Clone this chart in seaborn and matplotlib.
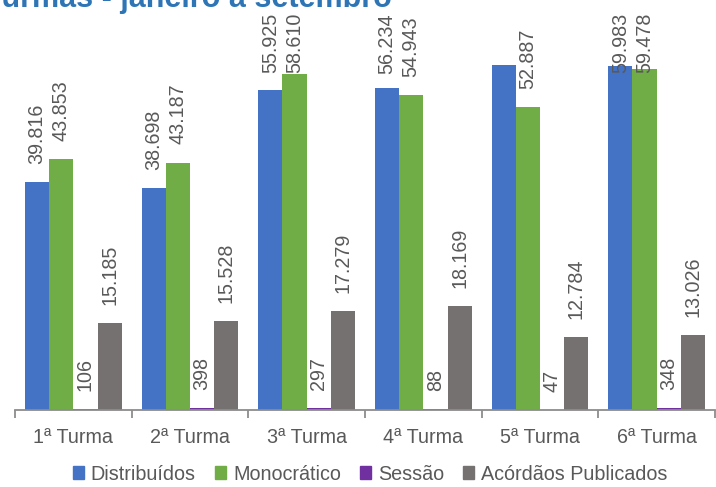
import numpy as np
import pandas as pd
import matplotlib
matplotlib.use("Agg")
import matplotlib.pyplot as plt
import seaborn as sns

# dados
turmas = ["1ª Turma", "2ª Turma", "3ª Turma", "4ª Turma", "5ª Turma", "6ª Turma"]
series = ["Distribuídos", "Monocrático", "Sessão", "Acórdãos Publicados"]
distribuidos = [39816, 38698, 55925, 56234, 60210, 59983]   # 5ª Turma: rótulo cortado na origem
monocratico = [43853, 43187, 58610, 54943, 52887, 59478]
sessao = [106, 398, 297, 88, 47, 348]
acordaos = [15185, 15528, 17279, 18169, 12784, 13026]
rotulo_oculto = [("5ª Turma", "Distribuídos")]

cores = ["#4472C4", "#70AD47", "#7030A0", "#767171"]
cinza_txt = "#595959"

df = pd.DataFrame({
    "turma": turmas * 4,
    "serie": np.repeat(series, len(turmas)),
    "valor": distribuidos + monocratico + sessao + acordaos,
})

sns.set_theme(style="white")
plt.rcParams["font.family"] = ["Liberation Sans Narrow", "Liberation Sans", "DejaVu Sans"]
fs = 14.2

fig = plt.figure(figsize=(7.16, 4.87), dpi=100)
ax = fig.add_axes([15 / 716, 77 / 487, 700 / 716, 410 / 487])

sns.barplot(data=df, x="turma", y="valor", hue="serie", order=turmas,
            hue_order=series, palette=cores, saturation=1, width=0.83,
            errorbar=None, linewidth=0, ax=ax)

ymax = 71550
ax.set_ylim(0, ymax)
ax.set_xlim(-0.5, len(turmas) - 0.5)
ax.set_xlabel("")
ax.set_ylabel("")
ax.set_yticks([])
for s in ["left", "right", "top"]:
    ax.spines[s].set_visible(False)
ax.spines["bottom"].set_color("#8C8C8C")
ax.spines["bottom"].set_linewidth(1.3)

ax.set_xticks(range(len(turmas)))
ax.set_xticklabels(turmas)
ax.set_xticks(np.arange(-0.5, len(turmas), 1), minor=True)
ax.tick_params(axis="x", which="major", length=0, pad=13, labelsize=fs, labelcolor=cinza_txt)
ax.tick_params(axis="x", which="minor", bottom=True, length=6, width=1.3, color="#8C8C8C")

# rótulos de dados
fig.canvas.draw()
limite_px = fig.bbox.height - 13
y_lim_top = ymax * (1 - 13 / 410)
for cont, serie in zip(ax.containers, series):
    for barra, turma in zip(cont, turmas):
        if (turma, serie) in rotulo_oculto:
            continue
        h = barra.get_height()
        x = barra.get_x() + barra.get_width() / 2
        txt = f"{int(h):,}".replace(",", ".")
        t = ax.annotate(txt, (x, h), xytext=(0, 13), textcoords="offset points",
                        rotation=90, ha="center", va="bottom", fontsize=fs,
                        color=cinza_txt, annotation_clip=False)
        bb = t.get_window_extent(fig.canvas.get_renderer())
        if bb.y1 > limite_px:
            t.remove()
            ax.annotate(txt, (x, y_lim_top), xytext=(0, 0), textcoords="offset points",
                        rotation=90, ha="center", va="top", fontsize=fs,
                        color=cinza_txt, annotation_clip=False)

ax.legend_.remove()
handles = [plt.Rectangle((0, 0), 1, 1, color=c) for c in cores]
leg = fig.legend(handles, series, loc="center", bbox_to_anchor=(370 / 716, 13 / 487),
                 ncol=4, frameon=False, fontsize=fs, handlelength=0.58, handleheight=0.58,
                 handletextpad=0.35, columnspacing=0.95, borderaxespad=0, borderpad=0)
for t in leg.get_texts():
    t.set_color(cinza_txt)

fig.text(392 / 716, 1 - 7 / 487, "Turmas - janeiro a setembro", ha="right",
         va="baseline", fontsize=22, fontweight="bold", color="#2E75B6",
         family=["Liberation Sans", "DejaVu Sans"])

fig.savefig("out.png", dpi=100)
